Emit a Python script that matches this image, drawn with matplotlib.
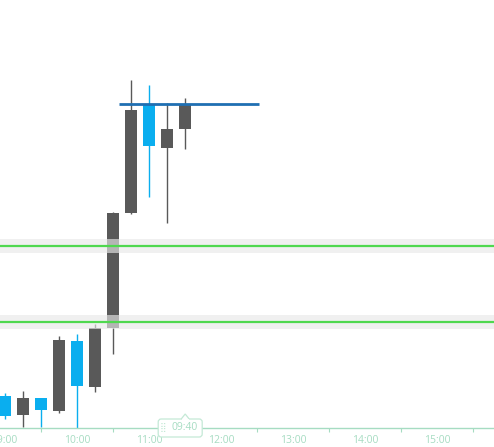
import matplotlib.pyplot as plt
from matplotlib.patches import Rectangle, FancyBboxPatch, Polygon
from matplotlib.transforms import ScaledTranslation

# 15-minute candles, price in arbitrary units
times = ['09:00', '09:15', '09:30', '09:45', '10:00', '10:15',
         '10:30', '10:45', '11:00', '11:15', '11:30']
opens = [100.4, 98.5, 100.2, 98.9, 105.9, 101.3, 107.2, 118.7, 129.5, 125.2, 127.1]
highs = [100.7, 100.9, 100.2, 106.4, 106.6, 107.6, 118.8, 132.0, 131.5, 129.7, 130.2]
lows = [98.1, 97.3, 97.3, 98.7, 97.1, 100.8, 104.6, 118.6, 120.3, 117.7, 125.1]
closes = [98.4, 100.2, 99.0, 106.0, 101.4, 107.2, 118.7, 129.0, 125.4, 127.1, 129.5]

# horizontal levels
levels = [115.4, 107.8]
resistance = 129.6
res_start, res_end = '10:35', '12:32'

tick_labels = ['09:00', '10:00', '11:00', '12:00', '13:00', '14:00', '15:00']
cursor_time = '11:26'
cursor_label = '09:40'

UP = '#595959'
DOWN = '#0aaeef'
LABEL = '#a6dcc2'
BORDER = '#c4e9d6'


def hours(t):
    h, m = t.split(':')
    return int(h) + int(m) / 60


fig = plt.figure(figsize=(4.94, 4.47), dpi=100)
ax = fig.add_axes([0, 1 - 428 / 447, 1, 428 / 447])

# support/resistance bands and lines
for lv in levels:
    ax.axhspan(lv - 0.7, lv + 0.7, color='#e8e8e8', alpha=0.65, zorder=4, lw=0)
    ax.axhline(lv, color='#4fd84f', lw=1.6, zorder=5)

# candles
width = 0.175
for t, o, h, l, c in zip(times, opens, highs, lows, closes):
    x = hours(t)
    col = UP if c >= o else DOWN
    ax.vlines(x, l, h, color=col, lw=1, zorder=2)
    ax.add_patch(Rectangle((x - width / 2, min(o, c)), width, abs(c - o),
                           facecolor=col, edgecolor='none', zorder=3))

ax.hlines(resistance, hours(res_start), hours(res_end), color='#1f6fb2', lw=2, zorder=6)

ax.set_xlim(9 - 5 / 72, 9 + 489 / 72)
ax.set_ylim(97.2, 140)

ax.set_xticks([hours(t) for t in tick_labels])
ax.set_xticklabels(tick_labels)
ax.set_xticks([hours(t) + 0.5 for t in tick_labels], minor=True)
ax.tick_params(axis='x', which='major', length=0, pad=5, labelsize=7.5, labelcolor=LABEL)
ax.tick_params(axis='x', which='minor', length=3, color=LABEL, width=0.8)
ax.set_yticks([])
for s in ['top', 'left', 'right']:
    ax.spines[s].set_visible(False)
ax.spines['bottom'].set_color(LABEL)
ax.spines['bottom'].set_linewidth(1)
for lab in ax.get_xticklabels():
    lab.set_fontfamily('Open Sans')

# crosshair time label, sizes in inches around (cursor time, axis line)
cx = hours(cursor_time)
tr = fig.dpi_scale_trans + ScaledTranslation(cx, 0, ax.get_xaxis_transform())
box = FancyBboxPatch((-0.22, -0.09), 0.44, 0.18, boxstyle='round,pad=0,rounding_size=0.03',
                     fc='white', ec=BORDER, lw=0.9, transform=tr, zorder=10, clip_on=False)
fig.add_artist(box)
tip = Polygon([(0.01, 0.09), (0.05, 0.14), (0.09, 0.09)], closed=False, fc='white',
              ec=BORDER, lw=0.9, transform=tr, zorder=11, clip_on=False)
fig.add_artist(tip)
fig.add_artist(Rectangle((0.015, 0.085), 0.07, 0.01, fc='white', ec='none',
                         transform=tr, zorder=12, clip_on=False))
fig.text(0.04, 0.0, cursor_label, transform=tr, ha='center', va='center', fontsize=7.5,
         color=LABEL, family='Open Sans', zorder=13)
fig.text(-0.17, 0.0, '⣿', transform=tr, ha='center', va='center', fontsize=6.5,
         color=BORDER, family='DejaVu Sans', zorder=13)

fig.savefig('out.png', dpi=100)
